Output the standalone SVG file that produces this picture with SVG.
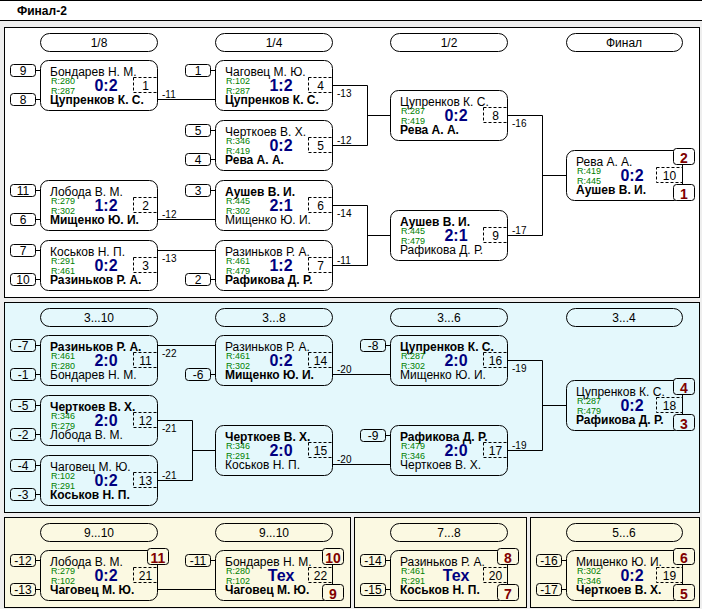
<svg xmlns="http://www.w3.org/2000/svg" width="702" height="609" viewBox="0 0 702 609">
<style>
text{font-family:"Liberation Sans",Arial,sans-serif;fill:#000}
.fr{stroke:#000;stroke-width:1}
.pill{fill:none;stroke:#000}
.ph{font-size:12px;text-anchor:middle}
.bx{fill:none;stroke:#000}
.sd{fill:none;stroke:#000}
.dn{fill:none;stroke:#000;stroke-dasharray:3 2}
.n{font-size:12px}
.nb{font-size:12px;font-weight:bold}
.r{font-size:9px;fill:#008000}
.sc{font-size:16px;font-weight:bold;fill:#000080;text-anchor:middle}
.num{font-size:12px;text-anchor:middle}
.pn{font-size:14px;font-weight:bold;fill:#800000;text-anchor:middle}
.lk{stroke:#000;fill:none}
.lb{font-size:10px}
.pw{fill:#fff;stroke:#000}
.pc{fill:#e4f8fc;stroke:#000}
.py{fill:#fbf9e2;stroke:#000}
</style>
<rect x="0" y="0" width="702" height="609" fill="#eeeeee"/>
<rect x="0" y="0" width="702" height="20" fill="#fff"/>
<path d="M0 0.5H702M0 20.5H702" stroke="#000"/>
<text x="17" y="15" style="font-size:12px;font-weight:bold">Финал-2</text>
<rect class="fr" x="4.5" y="27.5" width="695" height="270" fill="#fff"/>
<rect class="fr" x="4.5" y="302.5" width="695" height="210" fill="#e4f8fc"/>
<rect class="fr" x="4.5" y="517.5" width="346" height="90" fill="#fbf9e2"/>
<rect class="fr" x="354.5" y="517.5" width="172" height="90" fill="#fbf9e2"/>
<rect class="fr" x="530.5" y="517.5" width="169" height="90" fill="#fbf9e2"/>

<g id="headers">
<rect class="pill" x="40.5" y="33.5" width="117" height="18" rx="9"/><text class="ph" x="99" y="47">1/8</text>
<rect class="pill" x="215.5" y="33.5" width="117" height="18" rx="9"/><text class="ph" x="274" y="47">1/4</text>
<rect class="pill" x="390.5" y="33.5" width="117" height="18" rx="9"/><text class="ph" x="449" y="47">1/2</text>
<rect class="pill" x="566.5" y="33.5" width="116" height="18" rx="9"/><text class="ph" x="624" y="47">Финал</text>
<rect class="pill" x="40.5" y="308.5" width="117" height="18" rx="9"/><text class="ph" x="99" y="322">3...10</text>
<rect class="pill" x="215.5" y="308.5" width="117" height="18" rx="9"/><text class="ph" x="274" y="322">3...8</text>
<rect class="pill" x="390.5" y="308.5" width="117" height="18" rx="9"/><text class="ph" x="449" y="322">3...6</text>
<rect class="pill" x="566.5" y="308.5" width="116" height="18" rx="9"/><text class="ph" x="624" y="322">3...4</text>
<rect class="pill" x="40.5" y="523.5" width="117" height="18" rx="9"/><text class="ph" x="99" y="537">9...10</text>
<rect class="pill" x="215.5" y="523.5" width="117" height="18" rx="9"/><text class="ph" x="274" y="537">9...10</text>
<rect class="pill" x="390.5" y="523.5" width="117" height="18" rx="9"/><text class="ph" x="449" y="537">7...8</text>
<rect class="pill" x="566.5" y="523.5" width="116" height="18" rx="9"/><text class="ph" x="624" y="537">5...6</text>
</g>

<g id="connectors">
<path class="lk" d="M157 99.5H215M157 219.5H215M157 250.5H215"/>
<path class="lk" d="M333 85.5H367.5V145.5H333M367.5 115.5H390"/>
<path class="lk" d="M333 205.5H367.5V265.5H333M367.5 235.5H390"/>
<path class="lk" d="M507 115.5H542.5V235.5H507M542.5 175.5H566"/>
<path class="lk" d="M157 345.5H215M333 374.5H390M333 464.5H390"/>
<path class="lk" d="M157 420.5H192.5V480.5H157M192.5 450.5H215"/>
<path class="lk" d="M507 360.5H542.5V450.5H507M542.5 405.5H566"/>
<path class="lk" d="M157 589.5H215"/>
<text class="lb" x="162" y="97.5">-11</text>
<text class="lb" x="162" y="217.5">-12</text>
<text class="lb" x="162" y="261.5">-13</text>
<text class="lb" x="337" y="96.5">-13</text>
<text class="lb" x="337" y="143.5">-12</text>
<text class="lb" x="337" y="216.5">-14</text>
<text class="lb" x="337" y="263.5">-11</text>
<text class="lb" x="512" y="126.5">-16</text>
<text class="lb" x="512" y="233.5">-17</text>
<text class="lb" x="162" y="356.5">-22</text>
<text class="lb" x="162" y="431.5">-21</text>
<text class="lb" x="162" y="478.5">-21</text>
<text class="lb" x="337" y="372.5">-20</text>
<text class="lb" x="337" y="462.5">-20</text>
<text class="lb" x="512" y="371.5">-19</text>
<text class="lb" x="512" y="448.5">-19</text>
</g>

<g id="m1" transform="translate(40,60)">
<rect class="bx" x="0.5" y="0.5" width="117" height="50" rx="8"/>
<rect class="sd" x="-29.5" y="4.5" width="25" height="12" rx="3"/><path class="lk" d="M-4.5 10.5H0"/><text class="num" x="-17" y="14.5">9</text>
<rect class="sd" x="-29.5" y="33.5" width="25" height="12" rx="3"/><path class="lk" d="M-4.5 39.5H0"/><text class="num" x="-17" y="43.5">8</text>
<text class="n" x="10" y="16">Бондарев Н. М.</text><text class="r" x="11" y="24">R:280</text><text class="r" x="11" y="34">R:287</text>
<text class="sc" x="66" y="31">0:2</text><rect class="dn" x="93.5" y="17.5" width="24" height="15"/><text class="num" x="105.5" y="29.5">1</text>
<text class="nb" x="10" y="44">Цупренков К. С.</text>
</g>
<g id="m2" transform="translate(40,180)">
<rect class="bx" x="0.5" y="0.5" width="117" height="50" rx="8"/>
<rect class="sd" x="-29.5" y="4.5" width="25" height="12" rx="3"/><path class="lk" d="M-4.5 10.5H0"/><text class="num" x="-17" y="14.5">11</text>
<rect class="sd" x="-29.5" y="33.5" width="25" height="12" rx="3"/><path class="lk" d="M-4.5 39.5H0"/><text class="num" x="-17" y="43.5">6</text>
<text class="n" x="10" y="16">Лобода В. М.</text><text class="r" x="11" y="24">R:279</text><text class="r" x="11" y="34">R:302</text>
<text class="sc" x="66" y="31">1:2</text><rect class="dn" x="93.5" y="17.5" width="24" height="15"/><text class="num" x="105.5" y="29.5">2</text>
<text class="nb" x="10" y="44">Мищенко Ю. И.</text>
</g>
<g id="m3" transform="translate(40,240)">
<rect class="bx" x="0.5" y="0.5" width="117" height="50" rx="8"/>
<rect class="sd" x="-29.5" y="4.5" width="25" height="12" rx="3"/><path class="lk" d="M-4.5 10.5H0"/><text class="num" x="-17" y="14.5">7</text>
<rect class="sd" x="-29.5" y="33.5" width="25" height="12" rx="3"/><path class="lk" d="M-4.5 39.5H0"/><text class="num" x="-17" y="43.5">10</text>
<text class="n" x="10" y="16">Коськов Н. П.</text><text class="r" x="11" y="24">R:291</text><text class="r" x="11" y="34">R:461</text>
<text class="sc" x="66" y="31">0:2</text><rect class="dn" x="93.5" y="17.5" width="24" height="15"/><text class="num" x="105.5" y="29.5">3</text>
<text class="nb" x="10" y="44">Разиньков Р. А.</text>
</g>
<g id="m4" transform="translate(215,60)">
<rect class="bx" x="0.5" y="0.5" width="117" height="50" rx="8"/>
<rect class="sd" x="-29.5" y="4.5" width="25" height="12" rx="3"/><path class="lk" d="M-4.5 10.5H0"/><text class="num" x="-17" y="14.5">1</text>
<text class="n" x="10" y="16">Чаговец М. Ю.</text><text class="r" x="11" y="24">R:102</text><text class="r" x="11" y="34">R:287</text>
<text class="sc" x="66" y="31">1:2</text><rect class="dn" x="93.5" y="17.5" width="24" height="15"/><text class="num" x="105.5" y="29.5">4</text>
<text class="nb" x="10" y="44">Цупренков К. С.</text>
</g>
<g id="m5" transform="translate(215,120)">
<rect class="bx" x="0.5" y="0.5" width="117" height="50" rx="8"/>
<rect class="sd" x="-29.5" y="4.5" width="25" height="12" rx="3"/><path class="lk" d="M-4.5 10.5H0"/><text class="num" x="-17" y="14.5">5</text>
<rect class="sd" x="-29.5" y="33.5" width="25" height="12" rx="3"/><path class="lk" d="M-4.5 39.5H0"/><text class="num" x="-17" y="43.5">4</text>
<text class="n" x="10" y="16">Черткоев В. Х.</text><text class="r" x="11" y="24">R:346</text><text class="r" x="11" y="34">R:419</text>
<text class="sc" x="66" y="31">0:2</text><rect class="dn" x="93.5" y="17.5" width="24" height="15"/><text class="num" x="105.5" y="29.5">5</text>
<text class="nb" x="10" y="44">Рева А. А.</text>
</g>
<g id="m6" transform="translate(215,180)">
<rect class="bx" x="0.5" y="0.5" width="117" height="50" rx="8"/>
<rect class="sd" x="-29.5" y="4.5" width="25" height="12" rx="3"/><path class="lk" d="M-4.5 10.5H0"/><text class="num" x="-17" y="14.5">3</text>
<text class="nb" x="10" y="16">Аушев В. И.</text><text class="r" x="11" y="24">R:445</text><text class="r" x="11" y="34">R:302</text>
<text class="sc" x="66" y="31">2:1</text><rect class="dn" x="93.5" y="17.5" width="24" height="15"/><text class="num" x="105.5" y="29.5">6</text>
<text class="n" x="10" y="44">Мищенко Ю. И.</text>
</g>
<g id="m7" transform="translate(215,240)">
<rect class="bx" x="0.5" y="0.5" width="117" height="50" rx="8"/>
<rect class="sd" x="-29.5" y="33.5" width="25" height="12" rx="3"/><path class="lk" d="M-4.5 39.5H0"/><text class="num" x="-17" y="43.5">2</text>
<text class="n" x="10" y="16">Разиньков Р. А.</text><text class="r" x="11" y="24">R:461</text><text class="r" x="11" y="34">R:479</text>
<text class="sc" x="66" y="31">1:2</text><rect class="dn" x="93.5" y="17.5" width="24" height="15"/><text class="num" x="105.5" y="29.5">7</text>
<text class="nb" x="10" y="44">Рафикова Д. Р.</text>
</g>
<g id="m8" transform="translate(390,90)">
<rect class="bx" x="0.5" y="0.5" width="117" height="50" rx="8"/>
<text class="n" x="10" y="16">Цупренков К. С.</text><text class="r" x="11" y="24">R:287</text><text class="r" x="11" y="34">R:419</text>
<text class="sc" x="66" y="31">0:2</text><rect class="dn" x="93.5" y="17.5" width="24" height="15"/><text class="num" x="105.5" y="29.5">8</text>
<text class="nb" x="10" y="44">Рева А. А.</text>
</g>
<g id="m9" transform="translate(390,210)">
<rect class="bx" x="0.5" y="0.5" width="117" height="50" rx="8"/>
<text class="nb" x="10" y="16">Аушев В. И.</text><text class="r" x="11" y="24">R:445</text><text class="r" x="11" y="34">R:479</text>
<text class="sc" x="66" y="31">2:1</text><rect class="dn" x="93.5" y="17.5" width="24" height="15"/><text class="num" x="105.5" y="29.5">9</text>
<text class="n" x="10" y="44">Рафикова Д. Р.</text>
</g>
<g id="m10" transform="translate(566,150)">
<rect class="bx" x="0.5" y="0.5" width="116" height="50" rx="8"/>
<text class="n" x="10" y="16">Рева А. А.</text><text class="r" x="11" y="24">R:419</text><text class="r" x="11" y="34">R:445</text>
<text class="sc" x="66" y="31">0:2</text><rect class="dn" x="90.5" y="17.5" width="26" height="15"/><text class="num" x="103.5" y="29.5">10</text>
<text class="nb" x="10" y="44">Аушев В. И.</text>
<rect class="pw" x="107.5" y="-1.5" width="21" height="16" rx="3"/><text class="pn" x="118" y="12.5">2</text>
<rect class="pw" x="107.5" y="34.5" width="21" height="16" rx="3"/><text class="pn" x="118" y="48.5">1</text>
</g>

<g id="m11" transform="translate(40,335)">
<rect class="bx" x="0.5" y="0.5" width="117" height="50" rx="8"/>
<rect class="sd" x="-29.5" y="4.5" width="25" height="12" rx="3"/><path class="lk" d="M-4.5 10.5H0"/><text class="num" x="-17" y="14.5">-7</text>
<rect class="sd" x="-29.5" y="33.5" width="25" height="12" rx="3"/><path class="lk" d="M-4.5 39.5H0"/><text class="num" x="-17" y="43.5">-1</text>
<text class="nb" x="10" y="16">Разиньков Р. А.</text><text class="r" x="11" y="24">R:461</text><text class="r" x="11" y="34">R:280</text>
<text class="sc" x="66" y="31">2:0</text><rect class="dn" x="93.5" y="17.5" width="24" height="15"/><text class="num" x="105.5" y="29.5">11</text>
<text class="n" x="10" y="44">Бондарев Н. М.</text>
</g>
<g id="m12" transform="translate(40,395)">
<rect class="bx" x="0.5" y="0.5" width="117" height="50" rx="8"/>
<rect class="sd" x="-29.5" y="4.5" width="25" height="12" rx="3"/><path class="lk" d="M-4.5 10.5H0"/><text class="num" x="-17" y="14.5">-5</text>
<rect class="sd" x="-29.5" y="33.5" width="25" height="12" rx="3"/><path class="lk" d="M-4.5 39.5H0"/><text class="num" x="-17" y="43.5">-2</text>
<text class="nb" x="10" y="16">Черткоев В. Х.</text><text class="r" x="11" y="24">R:346</text><text class="r" x="11" y="34">R:279</text>
<text class="sc" x="66" y="31">2:0</text><rect class="dn" x="93.5" y="17.5" width="24" height="15"/><text class="num" x="105.5" y="29.5">12</text>
<text class="n" x="10" y="44">Лобода В. М.</text>
</g>
<g id="m13" transform="translate(40,455)">
<rect class="bx" x="0.5" y="0.5" width="117" height="50" rx="8"/>
<rect class="sd" x="-29.5" y="4.5" width="25" height="12" rx="3"/><path class="lk" d="M-4.5 10.5H0"/><text class="num" x="-17" y="14.5">-4</text>
<rect class="sd" x="-29.5" y="33.5" width="25" height="12" rx="3"/><path class="lk" d="M-4.5 39.5H0"/><text class="num" x="-17" y="43.5">-3</text>
<text class="n" x="10" y="16">Чаговец М. Ю.</text><text class="r" x="11" y="24">R:102</text><text class="r" x="11" y="34">R:291</text>
<text class="sc" x="66" y="31">0:2</text><rect class="dn" x="93.5" y="17.5" width="24" height="15"/><text class="num" x="105.5" y="29.5">13</text>
<text class="nb" x="10" y="44">Коськов Н. П.</text>
</g>
<g id="m14" transform="translate(215,335)">
<rect class="bx" x="0.5" y="0.5" width="117" height="50" rx="8"/>
<rect class="sd" x="-29.5" y="33.5" width="25" height="12" rx="3"/><path class="lk" d="M-4.5 39.5H0"/><text class="num" x="-17" y="43.5">-6</text>
<text class="n" x="10" y="16">Разиньков Р. А.</text><text class="r" x="11" y="24">R:461</text><text class="r" x="11" y="34">R:302</text>
<text class="sc" x="66" y="31">0:2</text><rect class="dn" x="93.5" y="17.5" width="24" height="15"/><text class="num" x="105.5" y="29.5">14</text>
<text class="nb" x="10" y="44">Мищенко Ю. И.</text>
</g>
<g id="m15" transform="translate(215,425)">
<rect class="bx" x="0.5" y="0.5" width="117" height="50" rx="8"/>
<text class="nb" x="10" y="16">Черткоев В. Х.</text><text class="r" x="11" y="24">R:346</text><text class="r" x="11" y="34">R:291</text>
<text class="sc" x="66" y="31">2:0</text><rect class="dn" x="93.5" y="17.5" width="24" height="15"/><text class="num" x="105.5" y="29.5">15</text>
<text class="n" x="10" y="44">Коськов Н. П.</text>
</g>
<g id="m16" transform="translate(390,335)">
<rect class="bx" x="0.5" y="0.5" width="117" height="50" rx="8"/>
<rect class="sd" x="-29.5" y="4.5" width="25" height="12" rx="3"/><path class="lk" d="M-4.5 10.5H0"/><text class="num" x="-17" y="14.5">-8</text>
<text class="nb" x="10" y="16">Цупренков К. С.</text><text class="r" x="11" y="24">R:287</text><text class="r" x="11" y="34">R:302</text>
<text class="sc" x="66" y="31">2:0</text><rect class="dn" x="93.5" y="17.5" width="24" height="15"/><text class="num" x="105.5" y="29.5">16</text>
<text class="n" x="10" y="44">Мищенко Ю. И.</text>
</g>
<g id="m17" transform="translate(390,425)">
<rect class="bx" x="0.5" y="0.5" width="117" height="50" rx="8"/>
<rect class="sd" x="-29.5" y="4.5" width="25" height="12" rx="3"/><path class="lk" d="M-4.5 10.5H0"/><text class="num" x="-17" y="14.5">-9</text>
<text class="nb" x="10" y="16">Рафикова Д. Р.</text><text class="r" x="11" y="24">R:479</text><text class="r" x="11" y="34">R:346</text>
<text class="sc" x="66" y="31">2:0</text><rect class="dn" x="93.5" y="17.5" width="24" height="15"/><text class="num" x="105.5" y="29.5">17</text>
<text class="n" x="10" y="44">Черткоев В. Х.</text>
</g>
<g id="m18" transform="translate(566,380)">
<rect class="bx" x="0.5" y="0.5" width="116" height="50" rx="8"/>
<text class="n" x="10" y="16">Цупренков К. С.</text><text class="r" x="11" y="24">R:287</text><text class="r" x="11" y="34">R:479</text>
<text class="sc" x="66" y="31">0:2</text><rect class="dn" x="90.5" y="17.5" width="26" height="15"/><text class="num" x="103.5" y="29.5">18</text>
<text class="nb" x="10" y="44">Рафикова Д. Р.</text>
<rect class="pc" x="107.5" y="-1.5" width="21" height="16" rx="3"/><text class="pn" x="118" y="12.5">4</text>
<rect class="pc" x="107.5" y="34.5" width="21" height="16" rx="3"/><text class="pn" x="118" y="48.5">3</text>
</g>

<g id="m21" transform="translate(40,550)">
<rect class="bx" x="0.5" y="0.5" width="117" height="50" rx="8"/>
<rect class="sd" x="-29.5" y="4.5" width="25" height="12" rx="3"/><path class="lk" d="M-4.5 10.5H0"/><text class="num" x="-17" y="14.5">-12</text>
<rect class="sd" x="-29.5" y="33.5" width="25" height="12" rx="3"/><path class="lk" d="M-4.5 39.5H0"/><text class="num" x="-17" y="43.5">-13</text>
<text class="n" x="10" y="16">Лобода В. М.</text><text class="r" x="11" y="24">R:279</text><text class="r" x="11" y="34">R:102</text>
<text class="sc" x="66" y="31">0:2</text><rect class="dn" x="93.5" y="17.5" width="24" height="15"/><text class="num" x="105.5" y="29.5">21</text>
<text class="nb" x="10" y="44">Чаговец М. Ю.</text>
<rect class="py" x="107.5" y="-1.5" width="21" height="16" rx="3"/><text class="pn" x="118" y="12.5">11</text>
</g>
<g id="m22" transform="translate(215,550)">
<rect class="bx" x="0.5" y="0.5" width="117" height="50" rx="8"/>
<rect class="sd" x="-29.5" y="4.5" width="25" height="12" rx="3"/><path class="lk" d="M-4.5 10.5H0"/><text class="num" x="-17" y="14.5">-11</text>
<text class="n" x="10" y="16">Бондарев Н. М.</text><text class="r" x="11" y="24">R:280</text><text class="r" x="11" y="34">R:102</text>
<text class="sc" x="66" y="31">Тех</text><rect class="dn" x="93.5" y="17.5" width="24" height="15"/><text class="num" x="105.5" y="29.5">22</text>
<text class="nb" x="10" y="44">Чаговец М. Ю.</text>
<rect class="py" x="107.5" y="-1.5" width="21" height="16" rx="3"/><text class="pn" x="118" y="12.5">10</text>
<rect class="py" x="107.5" y="34.5" width="21" height="16" rx="3"/><text class="pn" x="118" y="48.5">9</text>
</g>
<g id="m20" transform="translate(390,550)">
<rect class="bx" x="0.5" y="0.5" width="117" height="50" rx="8"/>
<rect class="sd" x="-29.5" y="4.5" width="25" height="12" rx="3"/><path class="lk" d="M-4.5 10.5H0"/><text class="num" x="-17" y="14.5">-14</text>
<rect class="sd" x="-29.5" y="33.5" width="25" height="12" rx="3"/><path class="lk" d="M-4.5 39.5H0"/><text class="num" x="-17" y="43.5">-15</text>
<text class="n" x="10" y="16">Разиньков Р. А.</text><text class="r" x="11" y="24">R:461</text><text class="r" x="11" y="34">R:291</text>
<text class="sc" x="66" y="31">Тех</text><rect class="dn" x="93.5" y="17.5" width="24" height="15"/><text class="num" x="105.5" y="29.5">20</text>
<text class="nb" x="10" y="44">Коськов Н. П.</text>
<rect class="py" x="107.5" y="-1.5" width="21" height="16" rx="3"/><text class="pn" x="118" y="12.5">8</text>
<rect class="py" x="107.5" y="34.5" width="21" height="16" rx="3"/><text class="pn" x="118" y="48.5">7</text>
</g>
<g id="m19" transform="translate(566,550)">
<rect class="bx" x="0.5" y="0.5" width="116" height="50" rx="8"/>
<rect class="sd" x="-29.5" y="4.5" width="25" height="12" rx="3"/><path class="lk" d="M-4.5 10.5H0"/><text class="num" x="-17" y="14.5">-16</text>
<rect class="sd" x="-29.5" y="33.5" width="25" height="12" rx="3"/><path class="lk" d="M-4.5 39.5H0"/><text class="num" x="-17" y="43.5">-17</text>
<text class="n" x="10" y="16">Мищенко Ю. И.</text><text class="r" x="11" y="24">R:302</text><text class="r" x="11" y="34">R:346</text>
<text class="sc" x="66" y="31">0:2</text><rect class="dn" x="90.5" y="17.5" width="26" height="15"/><text class="num" x="103.5" y="29.5">19</text>
<text class="nb" x="10" y="44">Черткоев В. Х.</text>
<rect class="py" x="107.5" y="-1.5" width="21" height="16" rx="3"/><text class="pn" x="118" y="12.5">6</text>
<rect class="py" x="107.5" y="34.5" width="21" height="16" rx="3"/><text class="pn" x="118" y="48.5">5</text>
</g>
</svg>
